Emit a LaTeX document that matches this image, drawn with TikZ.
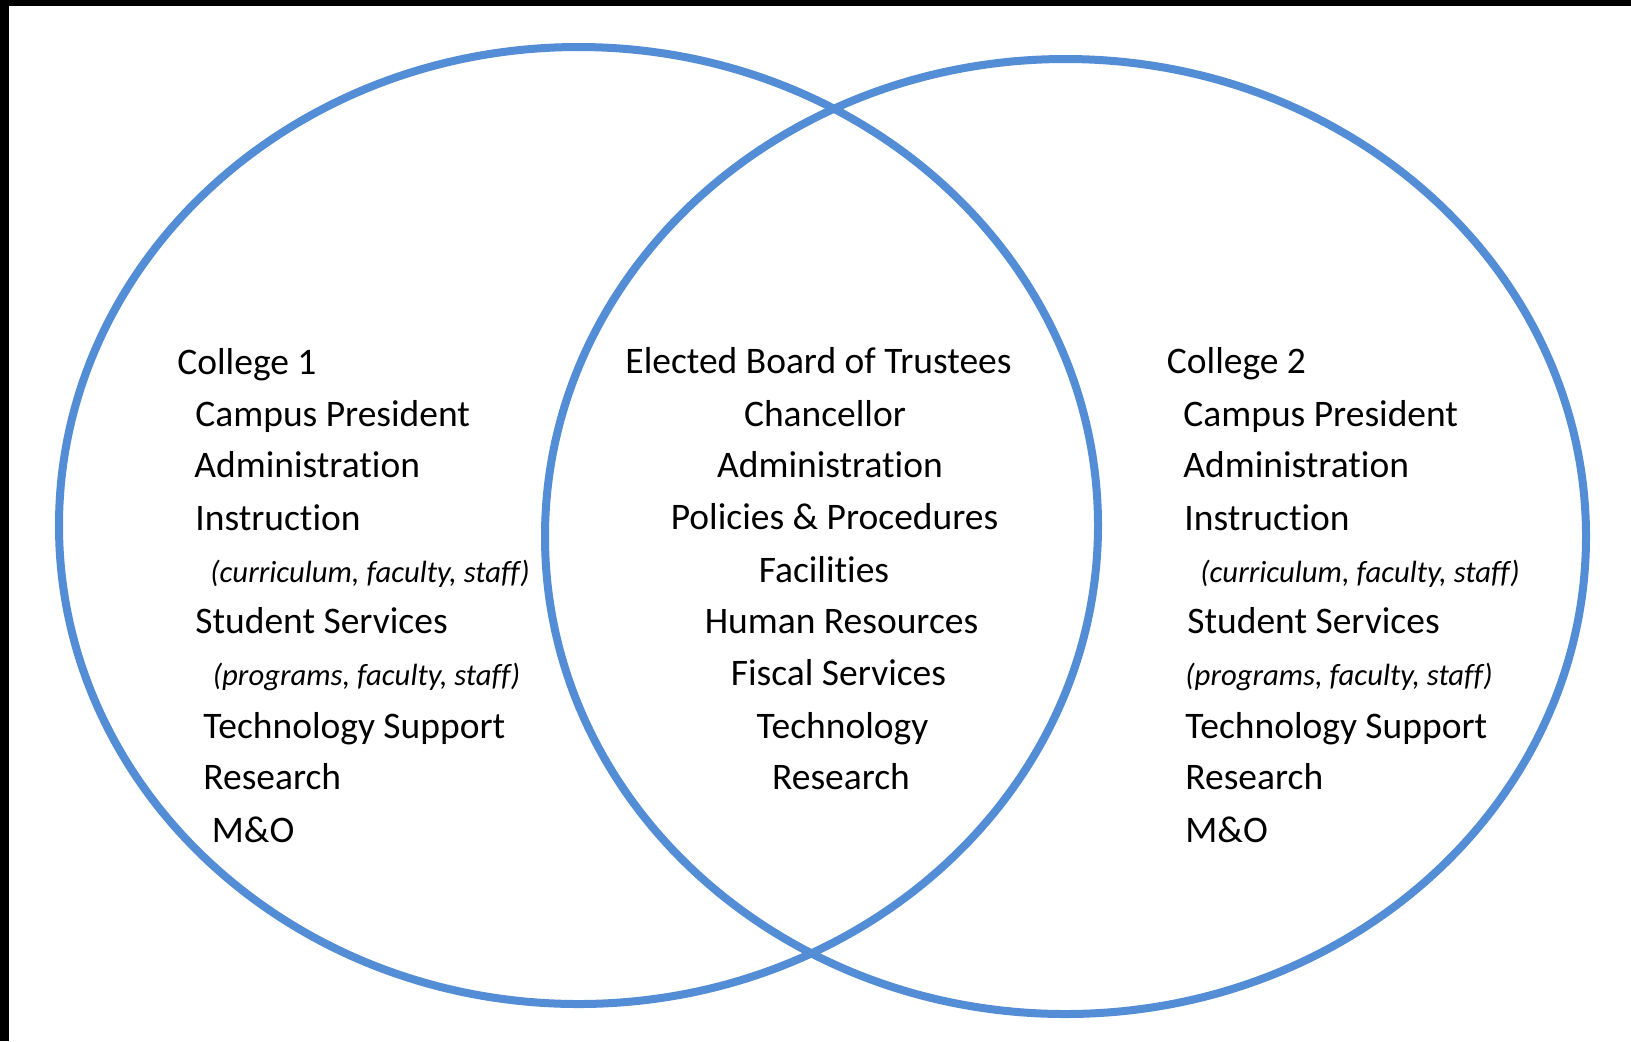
\documentclass[tikz,border=0pt]{standalone}
\usepackage{fontspec}
\setmainfont{Carlito}[Ligatures=NoCommon]
\definecolor{ringblue}{RGB}{83,141,213}
\begin{document}
\begin{tikzpicture}[x=0.5pt, y=-0.5pt,
    ring/.style = {draw=ringblue, line width=4pt},
    item/.style = {anchor=base west, inner sep=0pt, font=\fontsize{18.75}{20}\selectfont},
    mid/.style = {anchor=base, inner sep=0pt, font=\fontsize{18.75}{20}\selectfont},
    note/.style = {anchor=base west, inner sep=0pt, font=\fontsize{15.35}{16}\selectfont\itshape}]
        \useasboundingbox (0,0) rectangle (1631,1041);
        \fill[white] (0,0) rectangle (1631,1041);
        \fill[black] (0,0) rectangle (1631,6);
        \fill[black] (0,0) rectangle (9,1041);

        \draw[ring] (578.5,525.5) ellipse [x radius=519.5, y radius=478.5];
        \draw[ring] (1065.5,536.5) ellipse [x radius=520.5, y radius=477.5];

        \node[item](l1) at (177,374) {College 1};
        \node[item](l2) at (195,426.5) {Campus President};
        \node[item](l3) at (194,477) {Administration};
        \node[item](l4) at (195,530) {Instruction};
        \node[note](l5) at (210,582) {(curriculum, faculty, staff)};
        \node[item](l6) at (195,633) {Student Services};
        \node[note](l7) at (212.5,685) {(programs, faculty, staff)};
        \node[item](l8) at (203,738) {Technology Support};
        \node[item](l9) at (203,789) {Research};
        \node[item](l10) at (211.5,842) {M\&O};

        \node[mid](m1) at (818.5,373.5) {Elected Board of Trustees};
        \node[mid](m2) at (825,426.5) {Chancellor};
        \node[mid](m3) at (830,477) {Administration};
        \node[mid](m4) at (834.5,529.5) {Policies \& Procedures};
        \node[mid](m5) at (824,582) {Facilities};
        \node[mid](m6) at (841.5,633) {Human Resources};
        \node[mid](m7) at (838.5,685) {Fiscal Services};
        \node[mid](m8) at (842.5,738) {Technology};
        \node[mid](m9) at (841,789) {Research};

        \node[item](r1) at (1166.5,373.5) {College 2};
        \node[item](r2) at (1183,426.5) {Campus President};
        \node[item](r3) at (1183,477) {Administration};
        \node[item](r4) at (1184,530) {Instruction};
        \node[note](r5) at (1200,582) {(curriculum, faculty, staff)};
        \node[item](r6) at (1187,633) {Student Services};
        \node[note](r7) at (1185,685) {(programs, faculty, staff)};
        \node[item](r8) at (1185,738) {Technology Support};
        \node[item](r9) at (1185,789) {Research};
        \node[item](r10) at (1185,842) {M\&O};
    \end{tikzpicture}
\end{document}
